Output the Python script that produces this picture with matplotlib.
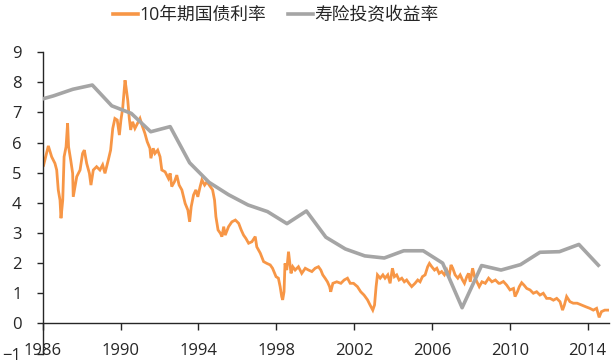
import matplotlib
matplotlib.use("Agg")
import matplotlib.pyplot as plt

# 10-year JGB yield (traced)
bond_x = [1986.00, 1986.04, 1986.29, 1986.46, 1986.63, 1986.72, 1986.80, 1986.89, 1986.94,
          1987.03, 1987.10, 1987.20, 1987.28, 1987.33, 1987.44, 1987.54, 1987.57, 1987.66,
          1987.75, 1987.92, 1988.05, 1988.14, 1988.26, 1988.40, 1988.48, 1988.60, 1988.77,
          1988.94, 1989.08, 1989.20, 1989.37, 1989.49, 1989.60, 1989.71, 1989.83, 1989.94,
          1990.02, 1990.11, 1990.18, 1990.23, 1990.28, 1990.37, 1990.45, 1990.52, 1990.62,
          1990.74, 1990.91, 1991.00, 1991.13, 1991.25, 1991.37, 1991.51, 1991.56, 1991.68,
          1991.77, 1991.91, 1992.03, 1992.12, 1992.29, 1992.46, 1992.55, 1992.63, 1992.77,
          1992.89, 1993.01, 1993.15, 1993.32, 1993.46, 1993.55, 1993.63, 1993.75, 1993.87,
          1993.97, 1994.09, 1994.18, 1994.32, 1994.44, 1994.61, 1994.73, 1994.83, 1994.90,
          1995.01, 1995.13, 1995.21, 1995.30, 1995.38, 1995.55, 1995.72, 1995.90, 1996.07,
          1996.20, 1996.32, 1996.44, 1996.58, 1996.75, 1996.92, 1997.00, 1997.18, 1997.35,
          1997.52, 1997.69, 1997.81, 1997.99, 1998.11, 1998.20, 1998.28, 1998.33, 1998.40,
          1998.45, 1998.54, 1998.63, 1998.68, 1998.76, 1998.85, 1998.97, 1999.14, 1999.31,
          1999.49, 1999.66, 1999.83, 2000.00, 2000.17, 2000.29, 2000.39, 2000.51, 2000.63,
          2000.74, 2000.80, 2000.91, 2001.11, 2001.32, 2001.49, 2001.66, 2001.80, 2001.97,
          2002.17, 2002.34, 2002.51, 2002.69, 2002.82, 2002.96, 2003.05, 2003.13, 2003.20,
          2003.34, 2003.48, 2003.59, 2003.73, 2003.85, 2003.97, 2004.07, 2004.19, 2004.31,
          2004.45, 2004.58, 2004.70, 2004.82, 2004.96, 2005.13, 2005.27, 2005.39, 2005.51,
          2005.65, 2005.78, 2005.87, 2005.99, 2006.13, 2006.25, 2006.37, 2006.50, 2006.64,
          2006.76, 2006.88, 2006.98, 2007.07, 2007.19, 2007.33, 2007.45, 2007.57, 2007.67,
          2007.79, 2007.88, 2007.97, 2008.09, 2008.19, 2008.31, 2008.43, 2008.57, 2008.74,
          2008.91, 2009.08, 2009.26, 2009.43, 2009.50, 2009.67, 2009.84, 2010.01, 2010.19,
          2010.27, 2010.39, 2010.49, 2010.61, 2010.73, 2010.87, 2011.04, 2011.21, 2011.38,
          2011.55, 2011.72, 2011.89, 2012.07, 2012.24, 2012.41, 2012.58, 2012.71, 2012.80,
          2012.92, 2013.09, 2013.26, 2013.46, 2013.68, 2013.91, 2014.11, 2014.29, 2014.46,
          2014.59, 2014.71, 2014.88, 2015.07]
bond_y = [5.20, 5.23, 5.89, 5.53, 5.31, 5.09, 4.43, 4.09, 3.49,
          4.09, 5.53, 5.86, 6.64, 5.86, 5.42, 4.98, 4.20, 4.54,
          4.87, 5.09, 5.64, 5.75, 5.31, 4.98, 4.59, 5.09, 5.20,
          5.09, 5.26, 4.98, 5.42, 5.75, 6.47, 6.80, 6.75, 6.25,
          6.75, 7.14, 7.69, 8.07, 7.85, 7.41, 6.80, 6.42, 6.69,
          6.47, 6.69, 6.80, 6.53, 6.31, 6.03, 5.81, 5.48, 5.81,
          5.64, 5.75, 5.53, 5.09, 5.03, 4.81, 4.98, 4.54, 4.70,
          4.92, 4.59, 4.43, 3.98, 3.76, 3.37, 3.87, 4.26, 4.43,
          4.20, 4.54, 4.76, 4.59, 4.70, 4.54, 4.43, 4.09, 3.54,
          3.10, 2.99, 2.88, 3.21, 2.93, 3.21, 3.37, 3.43, 3.32,
          3.10, 2.93, 2.82, 2.66, 2.71, 2.88, 2.54, 2.33, 2.05,
          1.99, 1.94, 1.83, 1.55, 1.50, 1.22, 0.89, 0.78, 1.05,
          1.99, 1.77, 2.38, 2.10, 1.66, 1.88, 1.77, 1.88, 1.66,
          1.83, 1.77, 1.72, 1.83, 1.88, 1.77, 1.61, 1.50, 1.38,
          1.22, 1.05, 1.33, 1.38, 1.33, 1.44, 1.50, 1.33, 1.33,
          1.22, 1.05, 0.94, 0.78, 0.61, 0.44, 0.61, 1.22, 1.61,
          1.50, 1.61, 1.50, 1.61, 1.33, 1.83, 1.55, 1.61, 1.44,
          1.50, 1.38, 1.44, 1.33, 1.22, 1.33, 1.44, 1.38, 1.55,
          1.61, 1.88, 1.99, 1.88, 1.77, 1.83, 1.66, 1.72, 1.61,
          1.77, 1.55, 1.94, 1.83, 1.61, 1.50, 1.61, 1.44, 1.33,
          1.55, 1.66, 1.38, 1.83, 1.55, 1.38, 1.22, 1.38, 1.33,
          1.50, 1.38, 1.44, 1.33, 1.33, 1.39, 1.27, 1.11, 1.16,
          0.89, 1.05, 1.22, 1.35, 1.27, 1.16, 1.11, 1.00, 1.05,
          0.94, 1.00, 0.83, 0.83, 0.77, 0.83, 0.72, 0.44, 0.60,
          0.89, 0.72, 0.67, 0.67, 0.61, 0.55, 0.50, 0.44, 0.50,
          0.20, 0.39, 0.44, 0.44]

# Life insurance investment yield (fiscal years, plotted mid-year)
ins_years = list(range(1985, 2015))
ins_y = [7.37, 7.55, 7.77, 7.91, 7.22, 6.97, 6.36, 6.53, 5.33, 4.68,
         4.27, 3.93, 3.71, 3.31, 3.73, 2.86, 2.47, 2.24, 2.17, 2.41,
         2.41, 2.00, 0.52, 1.92, 1.77, 1.95, 2.36, 2.38, 2.62, 1.93]
ins_x = [y + 0.55 for y in ins_years]

label_bond = "10年期国债利率"
label_ins = "寿险投资收益率"
xticks = list(range(1986, 2015, 4))
yticks = list(range(-1, 10))

plt.rcParams['font.family'] = ['Open Sans', 'Noto Sans CJK SC', 'DejaVu Sans']

fig = plt.figure(figsize=(6.16, 3.64), dpi=100)
ax = fig.add_axes([0.0693, 0.0288, 0.9188, 0.8278])

ax.plot(bond_x, bond_y, color='#F79646', lw=2.0, label=label_bond, zorder=2,
        solid_joinstyle='miter')
ax.plot(ins_x, ins_y, color='#A5A5A5', lw=2.6, label=label_ins, zorder=3,
        solid_joinstyle='round')

ax.set_xlim(1986, 2015.08)
ax.set_ylim(-1, 9)
ax.set_xticks(xticks)
ax.set_xticklabels([str(t) for t in xticks])
ax.set_yticks(yticks)

for s in ['top', 'right']:
    ax.spines[s].set_visible(False)
ax.spines['bottom'].set_position(('data', 0))
ax.spines['bottom'].set_color('#262626')
ax.spines['left'].set_color('#262626')
ax.spines['bottom'].set_linewidth(1.0)
ax.spines['left'].set_linewidth(1.0)

ax.tick_params(axis='x', direction='out', length=5, width=1.0, pad=9,
               labelsize=12, colors='#262626')
ax.tick_params(axis='y', direction='out', length=4.3, width=1.0, pad=11,
               labelsize=12, colors='#262626')

leg = fig.legend(loc='center', bbox_to_anchor=(0.448, 0.959), ncol=2,
                 frameon=False, fontsize=12.8, handlelength=1.4,
                 handletextpad=0.1, columnspacing=1.2)
for t in leg.get_texts():
    t.set_color('#262626')
for h in leg.legend_handles:
    h.set_linewidth(2.6)

fig.savefig('out.png', dpi=100)
